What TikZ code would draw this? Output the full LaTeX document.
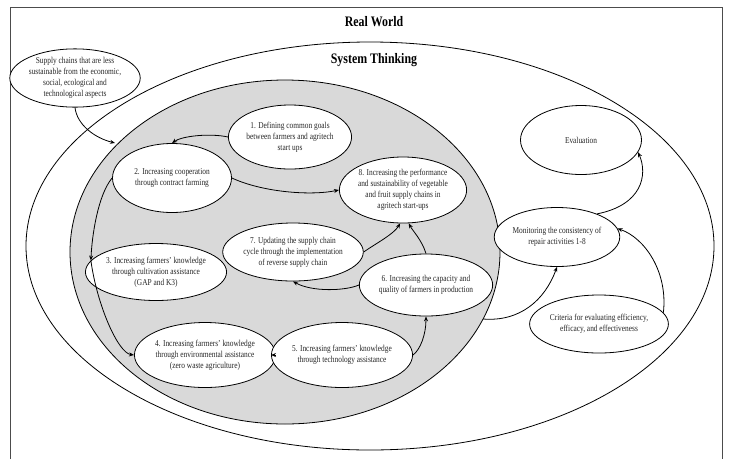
\documentclass[tikz,border=0pt]{standalone}
\usepackage{fontspec}
\setmainfont{Liberation Serif}[FakeStretch=0.82]
\usetikzlibrary{shapes.geometric,arrows.meta}
\begin{document}
\begin{tikzpicture}[x=1pt,y=-1pt,
  el/.style={ellipse,draw,fill=white,line width=0.8pt,inner sep=0pt,align=center,
             font=\fontsize{9}{11}\selectfont,text=black!85},
  titletext/.style={font=\fontsize{14.5}{17}\selectfont\bfseries},
  arr/.style={-{Stealth[length=5pt,width=4pt]},line width=0.8pt}]
\useasboundingbox (0,0) rectangle (729,459);
% frame
\draw[black!70,line width=0.9pt] (10,459) -- (10,7) -- (722,7) -- (722,459);
% system thinking ellipse
\draw[line width=0.8pt] (370,246) ellipse [x radius=344, y radius=204];
% gray ellipse
\draw[line width=0.8pt,fill=black!15] (285,252) ellipse [x radius=215, y radius=172];
% titles
\node[titletext] (rw) at (374,22) {Real World};
\node[titletext] (st) at (374,60) {System Thinking};
% nodes
\node[el,minimum width=120pt,minimum height=57pt] (sc) at (75,78)
  {Supply chains that are less\\sustainable from the economic,\\social, ecological and\\technological aspects};
\node[el,minimum width=114pt,minimum height=64pt] (n1) at (290,137)
  {1. Defining common goals\\between farmers and agritech\\start ups};
\node[el,minimum width=119pt,minimum height=69pt] (n2) at (172,178)
  {2. Increasing cooperation\\through contract farming};
\node[el,minimum width=119pt,minimum height=66pt] (n8) at (403,190)
  {8. Increasing the performance\\and sustainability of vegetable\\and fruit supply chains in\\agritech start-ups};
\node[el,minimum width=120pt,minimum height=58pt] (n7) at (293,252)
  {7. Updating the supply chain\\cycle through the implementation\\of reverse supply chain};
\node[el,minimum width=118pt,minimum height=57pt] (n3) at (156,272)
  {3. Increasing farmers' knowledge\\through cultivation assistance\\(GAP and K3)};
\node[el,minimum width=117pt,minimum height=65pt] (n4) at (205,355)
  {4. Increasing farmers' knowledge\\through environmental assistance\\(zero waste agriculture)};
\node[el,minimum width=119pt,minimum height=65pt] (n5) at (342,355)
  {5. Increasing farmers' knowledge\\through technology assistance};
\node[el,minimum width=116pt,minimum height=62pt] (n6) at (426,285)
  {6. Increasing the capacity and\\quality of farmers in production};
\node[el,minimum width=119pt,minimum height=59pt] (mon) at (557,237)
  {Monitoring the consistency of\\repair activities 1-8};
\node[el,minimum width=121pt,minimum height=69pt] (ev) at (581,140)
  {Evaluation};
\node[el,minimum width=118pt,minimum height=58pt] (cr) at (599,324)
  {Criteria for evaluating efficiency,\\efficacy, and effectiveness};
% free ends
\coordinate (scend) at (115,143);
\coordinate (grayout) at (483,319);
% connectors
\draw[arr] (sc.south) .. controls (77,125) and (95,138) .. (scend);
\draw[arr] (n1.west) .. controls (210,133) and (182,136) .. (n2.north);
\draw[arr] (n2.east) .. controls (262,192) and (310,196) .. (n8.west);
\draw[arr] (n2.west) .. controls (98,195) and (92,235) .. (n3.170);
\draw[arr] (n3.170) .. controls (97,305) and (118,353) .. (n4.west);
\draw[arr] (n4.east) -- (n5.west);
\draw[arr] (n5.east) .. controls (420,350) and (426,335) .. (n6.south);
\draw[arr] (n6.west) .. controls (345,291) and (312,292) .. (n7.south);
\draw[arr] (n7.east) .. controls (375,244) and (394,234) .. (n8.-95);
\draw[arr] (n6.north) .. controls (422,240) and (412,230) .. (n8.-80);
\draw[arr] (grayout) .. controls (520,322) and (545,300) .. (mon.south);
\draw[arr] (mon.30) .. controls (642,205) and (648,175) .. (ev.-12);
\draw[arr] (cr.10) .. controls (668,272) and (645,238) .. (mon.8);
\end{tikzpicture}
\end{document}
